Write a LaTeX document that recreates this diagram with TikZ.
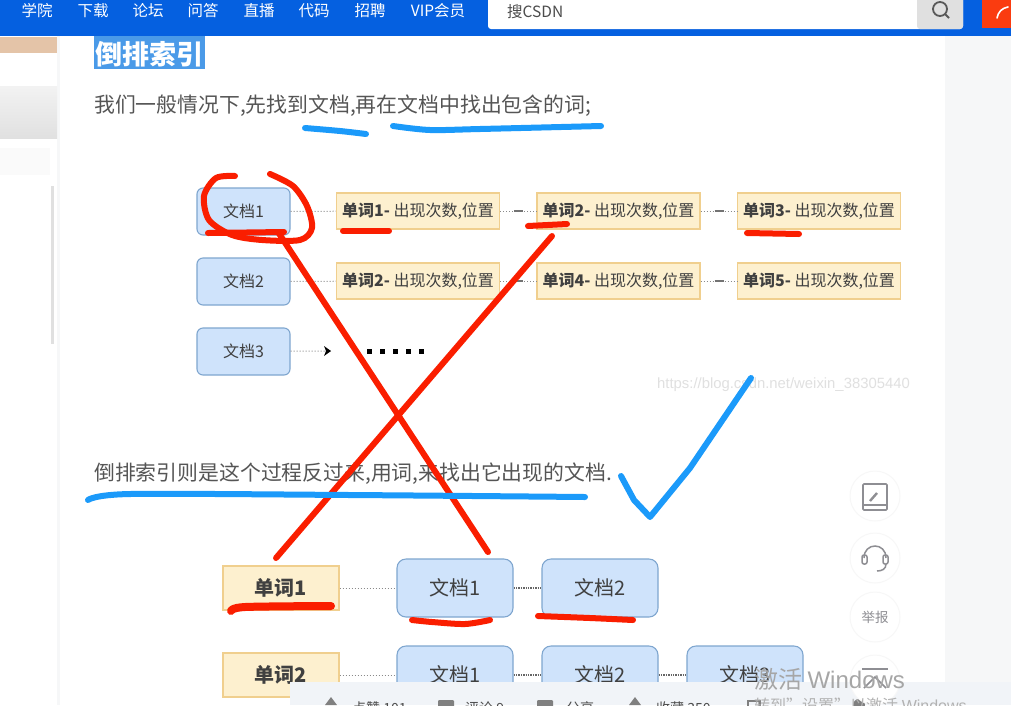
\documentclass[tikz,border=0pt]{standalone}
\usepackage{fontspec}
\setmainfont{Noto Sans CJK SC}
\newfontfamily\latinfont{Liberation Sans}
\definecolor{navblue}{HTML}{0560E0}
\definecolor{pagegray}{HTML}{F6F7F8}
\definecolor{textgray}{HTML}{555555}
\definecolor{docfill}{HTML}{CFE3FB}
\definecolor{docline}{HTML}{7FA6CF}
\definecolor{wordfill}{HTML}{FDF0CF}
\definecolor{wordline}{HTML}{F0CF8E}
\definecolor{inkred}{HTML}{FA1E00}
\definecolor{inkblue}{HTML}{1B9AFA}
\definecolor{linkgray}{HTML}{8A8A8A}
\definecolor{iconshade}{HTML}{F7F7F7}
\definecolor{icongray}{HTML}{8E8E93}
\tikzset{
  docbox/.style={draw=docline,fill=docfill,rounded corners=6pt,line width=1.1pt,minimum width=93pt,minimum height=47pt,inner sep=0pt,text=black!75,font=\fontsize{16}{18}\selectfont},
  wordbox/.style={draw=wordline,fill=wordfill,line width=1.1pt,minimum width=163pt,minimum height=36pt,inner sep=0pt,text=black!75,font=\fontsize{16}{18}\selectfont},
  docwide/.style={docbox,minimum width=116pt,minimum height=58pt,rounded corners=9pt,font=\fontsize{20}{22}\selectfont},
  wordwide/.style={wordbox,minimum width=116pt,minimum height=44pt,font=\fontsize{20}{22}\selectfont\bfseries},
  navtext/.style={text=white,inner sep=0pt,font=\fontsize{15.5}{18}\selectfont},
  paratext/.style={text=textgray,anchor=west,inner sep=0pt,font=\fontsize{20.85}{25}\selectfont},
  faintlink/.style={linkgray,line width=1pt,dotted},
  darklink/.style={black!60,line width=1.4pt,densely dotted},
  redstroke/.style={inkred,line width=6pt,line cap=round,line join=round},
  bluestroke/.style={inkblue,line width=6pt,line cap=round,line join=round},
  sidebtn/.style={circle,fill=white,draw=iconshade,line width=1pt,minimum size=50pt,inner sep=0pt},
  barlabel/.style={text=black!70,inner sep=0pt,anchor=west,font=\fontsize{14}{16}\selectfont},
}
\newcommand{\wordline}[2]{\textbf{单词#1-} 出现次数,位置}
\begin{document}
\begin{tikzpicture}[x=1pt,y=-1pt]
\useasboundingbox (0,0) rectangle (1011,705);
\fill [pagegray](0,0) rectangle (1011,705);
\fill [white](60,36) rectangle (945,705);
\fill [white](0,36) rectangle (57,705);
\fill [left color=white,right color=white,top color=black!5,bottom color=black!12](0,86) rectangle (57,138);
\fill [black!2](0,148) rectangle (50,175);
\fill [black!12](51,186) rectangle (54,344);
\fill [color={rgb,255:red,228;green,196;blue,168}](0,37) rectangle (57,53);
\fill [navblue](0,0) rectangle (1011,36);
\foreach \navx/\navlabel in {37/学院,93/下载,148/论坛,203/问答,259/直播,314/代码,370/招聘,438/VIP会员}
  \node [navtext] (nav\navx) at (\navx,11) {\navlabel};
\fill [white,rounded corners=3pt](488,-5) rectangle (963,29);
\fill [black!12,rounded corners=3pt](917,-5) rectangle (963,29);
\node [text=black!70,anchor=west,inner sep=0pt,font=\fontsize{15.5}{18}\selectfont] (searchtext) at (507,12) {搜CSDN};
\draw [black!65,line width=1.8pt](940,9) circle (7);
\draw [black!65,line width=1.8pt](945,14) -- (949,18);
\fill [color={rgb,255:red,250;green,60;blue,16}](982,0) rectangle (1011,28);
\draw [white,line width=1.6pt,line cap=round](997,18) .. controls (998,12) and (1002,8) .. (1008,7);
\fill [color={rgb,255:red,74;green,154;blue,232}](94,36) rectangle (205,69);
\node [text=white,anchor=west,inner sep=0pt,font=\fontsize{27}{30}\selectfont\bfseries] (title) at (95,54) {倒排索引};
\node [paratext] (firstpara) at (94,105.5) {我们一般情况下,先找到文档,再在文档中找出包含的词;};
\node [paratext] (secondpara) at (94,473.5) {倒排索引则是这个过程反过来,用词,来找出它出现的文档.};
\node [text=black!12,inner sep=0pt,anchor=west,font=\latinfont\fontsize{14.85}{18}\selectfont] (watermark) at (657,385) {https://blog.csdn.net/weixin\_38305440};
\node [docbox] (doc1) at (243.5,211.5) {文档1};
\node [docbox] (doc2) at (243.5,281.5) {文档2};
\node [docbox] (doc3) at (243.5,351.5) {文档3};
\node [wordbox] (wordA1) at (418,211) {\wordline{1}{}};
\node [wordbox] (wordA2) at (618.5,211) {\wordline{2}{}};
\node [wordbox] (wordA3) at (819,211) {\wordline{3}{}};
\node [wordbox] (wordB1) at (418,281) {\wordline{2}{}};
\node [wordbox] (wordB2) at (618.5,281) {\wordline{4}{}};
\node [wordbox] (wordB3) at (819,281) {\wordline{5}{}};
\coordinate (dotsarrow) at (331,351);
\coordinate (dotsleft) at (367,351);
\coordinate (dotsright) at (425,351);
\foreach \linkfrom/\linkto in {doc1/wordA1,doc2/wordB1,wordA1/wordA2,wordA2/wordA3,wordB1/wordB2,wordB2/wordB3}
  \draw [faintlink](\linkfrom) -- (\linkto);
\foreach \linkfrom/\linkto in {wordA1/wordA2,wordA2/wordA3,wordB1/wordB2,wordB2/wordB3}
  \draw [black!55,line width=1.2pt](\linkfrom.east) ++(14,0) -- ++(9,0);
\draw [faintlink](doc3) -- (dotsarrow);
\fill [black](dotsarrow) -- ++(-7,-5) -- ++(2,5) -- ++(-2,5) -- cycle;
\draw [black,line width=5pt,dash pattern=on 5pt off 8pt](dotsleft) -- (dotsright);
\foreach \rowname/\rowy/\rowtext in {A/588/1,B/675/2}
  \node [wordwide] (low\rowname) at (281,\rowy) {单词\rowtext};
\node [docwide] (lowA1) at (455,588) {文档1};
\node [docwide] (lowA2) at (600,588) {文档2};
\node [docwide] (lowB1) at (455,675) {文档1};
\node [docwide] (lowB2) at (600,675) {文档2};
\node [docwide] (lowB3) at (745,675) {文档3};
\draw [faintlink](lowA) -- (lowA1);
\draw [darklink](lowA1) -- (lowA2);
\draw [faintlink](lowB) -- (lowB1);
\draw [darklink](lowB1) -- (lowB2);
\draw [darklink](lowB2) -- (lowB3);
\fill [color={rgb,255:red,241;green,244;blue,248}](290,682) rectangle (1011,705);
\foreach \barx/\barlabeltext in {352/点赞 101,465/评论 9,566/分享,656/收藏 350}
  \node [barlabel] (bar\barx) at (\barx,708) {\barlabeltext};
\fill [black!50](331,697) -- (337,705) -- (325,705) -- cycle;
\fill [black!50](635,697) -- (641,705) -- (629,705) -- cycle;
\foreach \barx in {438,537}
  \fill [black!50,rounded corners=1pt](\barx,700) rectangle ++(16,8);
\draw [black!50,line width=1.4pt](748,701) rectangle ++(12,8);
\fill [black!50](859,705) circle (6);
\node [sidebtn] (bookbtn) at (875,496) {};
\node [sidebtn] (phonebtn) at (875,558) {};
\node [sidebtn] (reportbtn) at (875,617) {};
\node [sidebtn] (topbtn) at (875,680) {};
\draw [icongray,line width=1.6pt,rounded corners=1pt](863,484) rectangle (887,510);
\draw [icongray,line width=1.6pt](863,505) -- (887,505);
\draw [icongray,line width=2.4pt](870,501) -- (877,493);
\draw [icongray,line width=1.5pt](864,558) .. controls (864,542) and (886,542) .. (886,558);
\draw [icongray,line width=1.5pt,rounded corners=2pt](862,555) rectangle (867,564);
\draw [icongray,line width=1.5pt,rounded corners=2pt](883,555) rectangle (888,564);
\draw [icongray,line width=1.5pt](886,564) .. controls (886,569) and (882,571) .. (877,571);
\node [text=icongray,inner sep=0pt,font=\fontsize{13.5}{16}\selectfont] (reportlabel) at (875,617) {举报};
\draw [icongray,line width=1.5pt](862,669) -- (888,669);
\draw [icongray,line width=1.5pt](864,688) -- (875,677) -- (886,688);
\node [text=black!35,inner sep=0pt,anchor=west,font=\fontsize{24}{26}\selectfont] (activatelabel) at (754,679) {激活 {\latinfont Windows}};
\node [text=black!30,inner sep=0pt,anchor=west,font=\fontsize{16}{17}\selectfont] (settingslabel) at (754,705) {转到"设置"以激活 {\latinfont Windows}};
\draw [redstroke] plot [smooth] coordinates {(235,176) (216,178) (204,196) (209,220) (232,235) (262,240) (300,240) (312,228) (307,206) (293,186) (270,174)};
\draw [redstroke] (208,233) -- (284,232);
\draw [redstroke] (278,232) -- (488,552);
\draw [redstroke] (552,236) -- (276,558);
\draw [redstroke] (343,231) -- (389,231);
\draw [redstroke] (528,226) -- (567,224);
\draw [redstroke] (747,233) -- (799,234);
\draw [redstroke,line width=8pt] plot [smooth] coordinates {(231,611) (245,607) (331,606)};
\draw [redstroke] plot [smooth] coordinates {(412,620) (432,622) (465,624) (490,620)};
\draw [redstroke] plot [smooth] coordinates {(538,616) (590,618) (633,620)};
\draw [bluestroke] plot [smooth] coordinates {(305,128) (340,131) (366,134)};
\draw [bluestroke] plot [smooth] coordinates {(393,126) (430,130) (480,129) (601,126)};
\draw [bluestroke] plot [smooth] coordinates {(88,500) (130,494) (350,495) (585,497)};
\draw [bluestroke] (621,476) -- (634,500) -- (650,517) -- (690,468) -- (751,378);
\end{tikzpicture}
\end{document}
